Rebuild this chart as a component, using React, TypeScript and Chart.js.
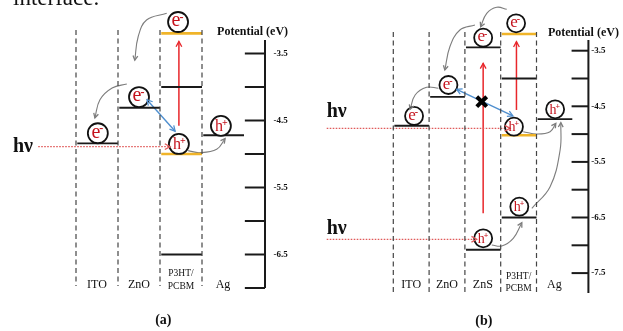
import React, { useEffect, useRef } from 'react';
import { Chart, registerables } from 'chart.js';

Chart.register(...registerables);

const SERIF = '"Liberation Serif", "Times New Roman", serif';
const W = 623;
const H = 331;

// ---------------- Panel (a): ITO / ZnO / P3HT:PCBM / Ag ----------------
const layersA = ['ITO', 'ZnO', 'P3HT/PCBM', 'Ag'];
const levelLayerA = [0, 1, 2, 2, 2, 2, 3];
const levelEnergyA = [-4.84, -4.31, -3.2, -4.0, -5.0, -6.5, -4.72];
const levelMaterialA = ['ITO', 'ZnO', 'P3HT', 'PCBM', 'P3HT', 'PCBM', 'Ag'];
const carrierXA = [2.43, 1.5, 0.52, 2.45, 3.45];
const carrierYA = [-3.03, -4.15, -4.69, -4.85, -4.58];
const carrierTypeA = ['e', 'e', 'e', 'h', 'h'];
const photonYA = [-4.89];
const photonFromA = [-0.9];
const photonToA = [2.24];
const excitationXA = [2.45];
const excitationFromA = [-4.58];
const excitationToA = [-3.32];
const transferA = [[1.69, -4.19], [2.36, -4.66]];
const hopA1 = [[2.16, -2.9], [1.68, -3.0], [1.48, -3.25], [1.4, -3.6]];
const hopA2 = [[1.21, -3.955], [0.86, -4.015], [0.57, -4.19], [0.45, -4.46]];
const hopA3 = [[2.67, -4.95], [2.95, -4.98], [3.35, -4.93], [3.55, -4.77]];
const potentialTicksA = [-3.5, -4, -4.5, -5, -5.5, -6, -6.5, -7];
const potentialLabelsA = [-3.5, -4.5, -5.5, -6.5];

// ---------------- Panel (b): ITO / ZnO / ZnS / P3HT:PCBM / Ag ----------------
const layersB = ['ITO', 'ZnO', 'ZnS', 'P3HT/PCBM', 'Ag'];
const levelLayerB = [0, 1, 2, 2, 3, 3, 3, 3, 4];
const levelEnergyB = [-4.85, -4.33, -3.44, -7.08, -3.2, -4.0, -5.02, -6.5, -4.73];
const levelMaterialB = ['ITO', 'ZnO', 'ZnS', 'ZnS', 'P3HT', 'PCBM', 'P3HT', 'PCBM', 'Ag'];
const carrierXB = [3.43, 2.51, 1.54, 0.58, 3.37, 4.52, 3.52, 2.51];
const carrierYB = [-3.007, -3.266, -4.117, -4.674, -4.867, -4.554, -6.306, -6.874];
const carrierTypeB = ['e', 'e', 'e', 'e', 'h', 'h', 'h', 'h'];
const photonYB = [-4.896, -6.892];
const photonFromB = [-1.86, -1.86];
const photonToB = [3.26, 2.33];
const excitationXB = [2.51, 3.44];
const excitationFromB = [-6.424, -4.566];
const excitationToB = [-3.727, -3.338];
const transferB = [[1.77, -4.194], [3.34, -4.674]];
const blockedB = [2.47, -4.417];
const hopB1 = [[3.17, -2.755], [2.89, -2.719], [2.61, -2.827], [2.44, -3.068]];
const hopB2 = [[2.28, -3.038], [1.86, -3.128], [1.58, -3.428], [1.44, -3.847]];
const hopB3 = [[1.26, -4.176], [0.93, -4.158], [0.61, -4.297], [0.47, -4.554]];
const hopB4 = [[3.63, -4.957], [4.01, -4.998], [4.38, -4.957], [4.54, -4.806]];
const hopB5 = [[3.87, -6.334], [4.38, -5.946], [4.66, -5.286], [4.68, -4.795]];
const hopB6 = [[2.75, -6.994], [3.03, -7.012], [3.35, -6.874], [3.59, -6.593]];
const potentialTicksB = [-3.5, -4, -4.5, -5, -5.5, -6, -6.5, -7, -7.5];
const potentialLabelsB = [-3.5, -4.5, -5.5, -6.5, -7.5];

// ---------------- layout (placement of each panel on the canvas) ----------------
const GEOM: any = {
  A: {
    x0px: 76, unitPx: 42, yRefPx: 53.5, pxPerEv: 67,
    dividerTop: -3.15, dividerBottom: -6.97,
    axisX: 4.5, tickStart: 4.02, axisTop: -3.3, axisBottom: -7.0, tickLabelX: 4.7,
    titleX: 3.36, titleY: -3.18, layerLabelY: -6.955, stackY1: -6.79, stackY2: -6.98,
    panelLabel: '(a)', panelX: 2.08, panelY: -7.48, radius: 10, eSize: 20, hSize: 16,
  },
  B: {
    x0px: 393.3, unitPx: 35.8, yRefPx: 50.7, pxPerEv: 55.6,
    dividerTop: -3.164, dividerBottom: -7.858,
    axisX: 5.45, tickStart: 4.98, axisTop: -3.307, axisBottom: -7.858, tickLabelX: 5.53,
    titleX: 4.32, titleY: -3.18, layerLabelY: -7.714, stackY1: -7.565, stackY2: -7.773,
    panelLabel: '(b)', panelX: 2.53, panelY: -8.374, radius: 9, eSize: 17, hSize: 14,
  },
};

const GOLD = '#f0b429';
const INK = '#1a1a1a';
const RED = '#e8262b';
const DOT_RED = '#e05a5a';
const BLUE = '#4f8fcf';
const GREY = '#7d7d7d';
const CARRIER_RED = '#c4121c';

function scaleRange(g: any) {
  return {
    x: { min: -g.x0px / g.unitPx, max: (W - g.x0px) / g.unitPx },
    y: { min: -3.5 - (H - g.yRefPx) / g.pxPerEv, max: -3.5 + g.yRefPx / g.pxPerEv },
  };
}

function line(p: string, pts: number[][], extra: any = {}) {
  return {
    type: 'line',
    xAxisID: 'x' + p,
    yAxisID: 'y' + p,
    data: pts.map(([x, y]) => ({ x, y })),
    pointRadius: 0,
    borderWidth: 1.5,
    borderColor: INK,
    fill: false,
    tension: 0,
    order: 1,
    clip: false,
    ...extra,
  };
}

function buildPanel(p: string, d: any) {
  const g = GEOM[p];
  const ds: any[] = [];
  // carriers first so they sit on top
  ds.push({
    type: 'line', xAxisID: 'x' + p, yAxisID: 'y' + p, showLine: false,
    data: d.carrierX.map((x: number, i: number) => ({ x, y: d.carrierY[i] })),
    pointRadius: g.radius, pointBackgroundColor: '#ffffff', pointBorderColor: '#111',
    pointBorderWidth: 1.8, order: 0, clip: false,
  });
  // layer dividers
  for (let i = 0; i < d.layers.length; i++) {
    ds.push(line(p, [[i, g.dividerTop], [i, g.dividerBottom]], { borderColor: '#444', borderWidth: 1.2, borderDash: [5, 3.5] }));
  }
  // energy levels
  d.levelLayer.forEach((L: number, i: number) => {
    const gold = d.levelMaterial[i] === 'P3HT';
    ds.push(line(p, [[L + 0.03, d.levelEnergy[i]], [L + 1.0, d.levelEnergy[i]]], {
      borderColor: gold ? GOLD : INK, borderWidth: gold ? 2.6 : 1.8,
    }));
  });
  // potential axis
  ds.push(line(p, [[g.axisX, g.axisTop], [g.axisX, g.axisBottom]], { borderWidth: 2 }));
  d.ticks.forEach((t: number) => {
    ds.push(line(p, [[g.tickStart, t], [g.axisX, t]], { borderWidth: 2 }));
  });
  // photons (dotted)
  d.photonY.forEach((y: number, i: number) => {
    ds.push(line(p, [[d.photonFrom[i], y], [d.photonTo[i], y]], {
      borderColor: DOT_RED, borderWidth: 1.2, borderDash: [1.6, 1.4], arrowEnd: true, headLen: 6,
    }));
  });
  // excitations (red)
  d.excX.forEach((x: number, i: number) => {
    ds.push(line(p, [[x, d.excFrom[i]], [x, d.excTo[i]]], {
      borderColor: RED, borderWidth: 1.5, arrowEnd: true, headLen: 6,
    }));
  });
  // charge transfer (blue double arrow)
  ds.push(line(p, d.transfer, { borderColor: BLUE, borderWidth: 1.4, arrowEnd: true, arrowStart: true, headLen: 6 }));
  // hops (grey curves)
  d.hops.forEach((h: number[][]) => {
    ds.push(line(p, h, { borderColor: GREY, borderWidth: 1.1, tension: 0.4, arrowEnd: true, headLen: 5 }));
  });
  if (d.blocked) {
    ds.push({
      type: 'line', xAxisID: 'x' + p, yAxisID: 'y' + p, showLine: false,
      data: [{ x: d.blocked[0], y: d.blocked[1] }],
      pointStyle: 'crossRot', pointRadius: 7, pointBorderColor: '#000', pointBorderWidth: 4, order: 0, clip: false,
    });
  }
  return ds;
}

function drawHead(ctx: CanvasRenderingContext2D, tx: number, ty: number, fx: number, fy: number, len: number, color: string, width: number) {
  const ang = Math.atan2(ty - fy, tx - fx);
  const a = 0.5;
  ctx.save();
  ctx.setLineDash([]);
  ctx.strokeStyle = color;
  ctx.lineWidth = width;
  ctx.beginPath();
  ctx.moveTo(tx - len * Math.cos(ang - a), ty - len * Math.sin(ang - a));
  ctx.lineTo(tx, ty);
  ctx.lineTo(tx - len * Math.cos(ang + a), ty - len * Math.sin(ang + a));
  ctx.stroke();
  ctx.restore();
}

export default function App() {
  const ref = useRef<HTMLCanvasElement | null>(null);

  useEffect(() => {
    if (!ref.current) return;
    const rA = scaleRange(GEOM.A);
    const rB = scaleRange(GEOM.B);
    const datasets = [
      ...buildPanel('A', {
        layers: layersA, levelLayer: levelLayerA, levelEnergy: levelEnergyA, levelMaterial: levelMaterialA,
        carrierX: carrierXA, carrierY: carrierYA, ticks: potentialTicksA,
        photonY: photonYA, photonFrom: photonFromA, photonTo: photonToA,
        excX: excitationXA, excFrom: excitationFromA, excTo: excitationToA,
        transfer: transferA, hops: [hopA1, hopA2, hopA3],
      }),
      ...buildPanel('B', {
        layers: layersB, levelLayer: levelLayerB, levelEnergy: levelEnergyB, levelMaterial: levelMaterialB,
        carrierX: carrierXB, carrierY: carrierYB, ticks: potentialTicksB,
        photonY: photonYB, photonFrom: photonFromB, photonTo: photonToB,
        excX: excitationXB, excFrom: excitationFromB, excTo: excitationToB,
        transfer: transferB, hops: [hopB1, hopB2, hopB3, hopB4, hopB5, hopB6], blocked: blockedB,
      }),
    ];

    const texts: any[] = [];
    const addPanelTexts = (p: string, layers: string[], labels: number[], cx: number[], cy: number[], ct: string[]) => {
      const g = GEOM[p];
      layers.forEach((name, i) => {
        if (name.includes('/')) {
          texts.push({ p, x: i + 0.5, y: g.stackY1, t: 'P3HT/', font: `9.5px ${SERIF}` });
          texts.push({ p, x: i + 0.5, y: g.stackY2, t: 'PCBM', font: `9.5px ${SERIF}` });
        } else {
          texts.push({ p, x: i + 0.5, y: g.layerLabelY, t: name, font: `12px ${SERIF}` });
        }
      });
      labels.forEach((v) => {
        texts.push({ p, x: g.tickLabelX, y: v, t: v.toFixed(1), font: `bold 9px ${SERIF}`, align: 'left' });
      });
      texts.push({ p, x: g.titleX, y: g.titleY, t: 'Potential (eV)', font: `bold 12px ${SERIF}`, align: 'left' });
      texts.push({ p, x: g.panelX, y: g.panelY, t: g.panelLabel, font: `bold 14px ${SERIF}` });
      cx.forEach((x, i) => texts.push({ p, x, y: cy[i], carrier: ct[i] }));
    };
    addPanelTexts('A', layersA, potentialLabelsA, carrierXA, carrierYA, carrierTypeA);
    addPanelTexts('B', layersB, potentialLabelsB, carrierXB, carrierYB, carrierTypeB);
    texts.push({ p: 'A', x: -1.5, y: -4.895, t: 'hν', font: `bold 20px ${SERIF}`, align: 'left' });
    texts.push({ p: 'B', x: -1.86, y: -4.597, t: 'hν', font: `bold 20px ${SERIF}`, align: 'left' });
    texts.push({ p: 'B', x: -1.86, y: -6.7, t: 'hν', font: `bold 20px ${SERIF}`, align: 'left' });
    texts.push({ p: 'A', x: -1.5, y: -2.78, t: 'interface.', font: `23px ${SERIF}`, align: 'left', baseline: 'alphabetic' });

    const overlay = {
      id: 'overlay',
      afterDatasetsDraw(chart: any) {
        const ctx: CanvasRenderingContext2D = chart.ctx;
        chart.data.datasets.forEach((ds: any, i: number) => {
          if (!ds.arrowEnd && !ds.arrowStart) return;
          const pts = chart.getDatasetMeta(i).data;
          const n = pts.length;
          if (ds.arrowEnd) {
            const e = pts[n - 1];
            let fx = pts[n - 2].x, fy = pts[n - 2].y;
            if (e.cp1x !== undefined && Math.hypot(e.x - e.cp1x, e.y - e.cp1y) > 0.5) { fx = e.cp1x; fy = e.cp1y; }
            drawHead(ctx, e.x, e.y, fx, fy, ds.headLen, ds.borderColor, 1.3);
          }
          if (ds.arrowStart) {
            drawHead(ctx, pts[0].x, pts[0].y, pts[1].x, pts[1].y, ds.headLen, ds.borderColor, 1.3);
          }
        });
        texts.forEach((tx) => {
          const xs = chart.scales['x' + tx.p];
          const ys = chart.scales['y' + tx.p];
          const px = xs.getPixelForValue(tx.x);
          const py = ys.getPixelForValue(tx.y);
          ctx.save();
          if (tx.carrier) {
            const g = GEOM[tx.p];
            const letter = tx.carrier;
            const size = letter === 'e' ? g.eSize : g.hSize;
            ctx.font = `${size}px ${SERIF}`;
            ctx.fillStyle = CARRIER_RED;
            ctx.textAlign = 'center';
            ctx.textBaseline = 'alphabetic';
            const w = ctx.measureText(letter).width;
            const lx = px - 2;
            const base = letter === 'e' ? py + size * 0.22 : py + size * 0.32;
            ctx.fillText(letter, lx, base);
            const sup = Math.round(size * 0.6);
            ctx.font = `bold ${sup}px ${SERIF}`;
            ctx.textAlign = 'left';
            ctx.fillText(letter === 'e' ? '-' : '+', lx + w / 2 - 1, letter === 'e' ? py - size * 0.05 : py - size * 0.02);
          } else {
            ctx.font = tx.font;
            ctx.fillStyle = '#111';
            ctx.textAlign = tx.align || 'center';
            ctx.textBaseline = tx.baseline || 'middle';
            ctx.fillText(tx.t, px, py);
          }
          ctx.restore();
        });
      },
    };

    const chart = new Chart(ref.current, {
      type: 'line',
      data: { datasets } as any,
      options: {
        animation: false,
        responsive: false,
        devicePixelRatio: 1,
        events: [],
        layout: { padding: 0, autoPadding: false },
        plugins: { legend: { display: false }, tooltip: { enabled: false }, title: { display: false } },
        scales: {
          xA: { type: 'linear', min: rA.x.min, max: rA.x.max, display: false },
          yA: { type: 'linear', min: rA.y.min, max: rA.y.max, display: false },
          xB: { type: 'linear', min: rB.x.min, max: rB.x.max, display: false },
          yB: { type: 'linear', min: rB.y.min, max: rB.y.max, display: false },
        },
      } as any,
      plugins: [overlay],
    });
    return () => chart.destroy();
  }, []);

  return (
    <div style={{ position: 'absolute', left: 0, top: 0, width: W, height: H, background: '#fff' }}>
      <canvas ref={ref} width={W} height={H} style={{ display: 'block', width: W, height: H }} />
    </div>
  );
}
